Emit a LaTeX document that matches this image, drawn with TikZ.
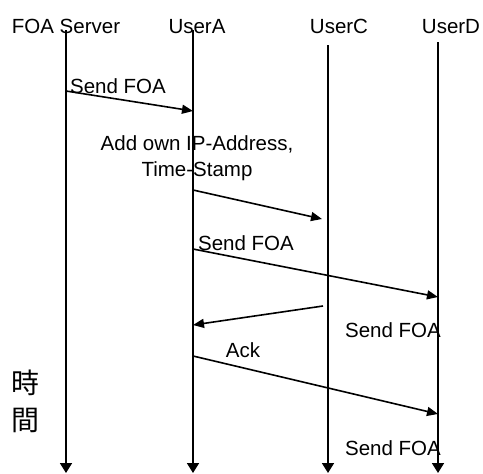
\documentclass[tikz,border=0pt]{standalone}
\usepackage{fontspec}
\setmainfont{Liberation Sans}
\newfontfamily\cjk{Noto Sans CJK TC}
\usetikzlibrary{arrows.meta}

\begin{document}
\begin{tikzpicture}[x=1pt,y=-1pt,
  lifeline/.style={line width=1.8pt,-{Triangle[length=10pt,width=12pt]}},
  msg/.style={line width=1.6pt,-{Triangle[length=11pt,width=9pt]}},
  lbl/.style={font=\fontsize{20.5}{24}\selectfont,inner sep=0pt,anchor=base},
  kanji/.style={font=\cjk\fontsize{28}{30}\selectfont,inner sep=0pt}]
\useasboundingbox (0,0) rectangle (483,474);

% participant headers
\node[lbl] (hS) at (66,33)  {FOA Server};
\node[lbl] (hA) at (197,33) {UserA};
\node[lbl] (hC) at (339,33) {UserC};
\node[lbl] (hD) at (451,33) {UserD};

% lifelines
\coordinate (sTop) at (66,30);  \coordinate (sBot) at (66,473);
\coordinate (aTop) at (193,30); \coordinate (aBot) at (193,473);
\coordinate (cTop) at (328,45); \coordinate (cBot) at (328,473);
\coordinate (dTop) at (438,42); \coordinate (dBot) at (438,473);
\draw[lifeline] (sTop) -- (sBot);
\draw[lifeline] (aTop) -- (aBot);
\draw[lifeline] (cTop) -- (cBot);
\draw[lifeline] (dTop) -- (dBot);

% message end points
\coordinate (m1s) at (66,91);   \coordinate (m1e) at (193,111);
\coordinate (m2s) at (193,190); \coordinate (m2e) at (322,219);
\coordinate (m3s) at (193,249); \coordinate (m3e) at (438,297);
\coordinate (m4s) at (323,306); \coordinate (m4e) at (193,325);
\coordinate (m5s) at (193,356); \coordinate (m5e) at (438,414);

% messages
\draw[msg] (m1s) -- (m1e);
\draw[msg] (m2s) -- (m2e);
\draw[msg] (m3s) -- (m3e);
\draw[msg] (m4s) -- (m4e);
\draw[msg] (m5s) -- (m5e);

% message labels
\node[lbl] (t1) at (118,93)  {Send FOA};
\node[lbl] (t2) at (197,150) {Add own IP-Address,};
\node[lbl] (t3) at (197,176) {Time-Stamp};
\node[lbl] (t4) at (246,250) {Send FOA};
\node[lbl] (t5) at (393,337) {Send FOA};
\node[lbl] (t6) at (243,357) {Ack};
\node[lbl] (t7) at (393,455) {Send FOA};

% time axis caption
\node[kanji] (k1) at (26,383) {時};
\node[kanji] (k2) at (26,420) {間};
\end{tikzpicture}
\end{document}
